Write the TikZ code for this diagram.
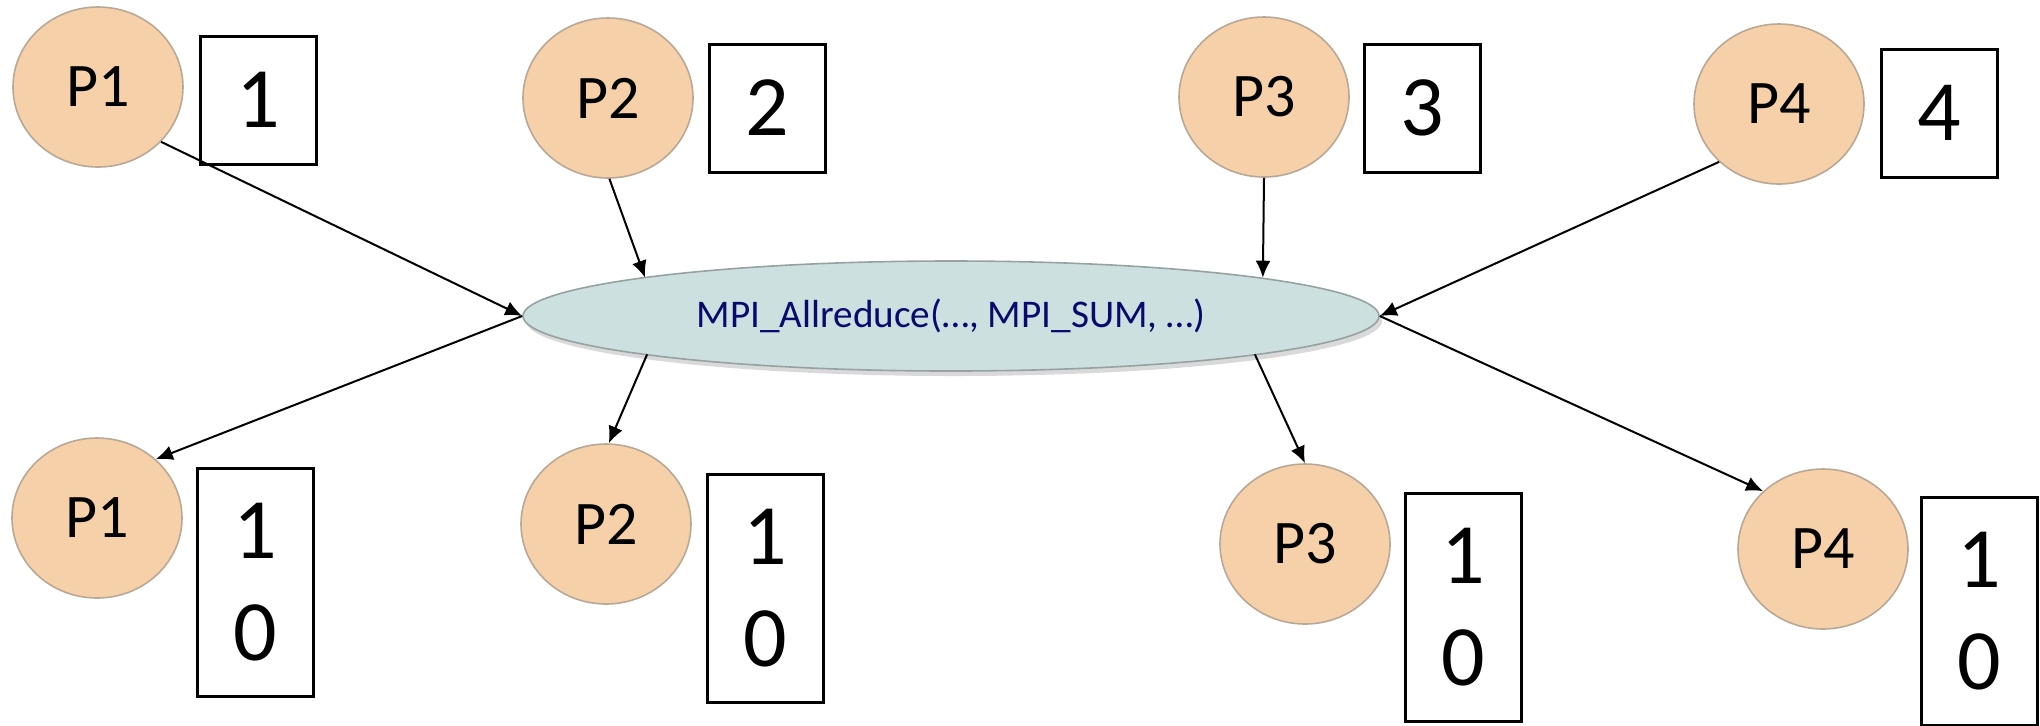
\documentclass[tikz,border=0pt]{standalone}
\usepackage{fontspec}
\setmainfont{Carlito}
\usetikzlibrary{shapes.geometric,arrows.meta,shadows}
\definecolor{procfill}{RGB}{245,208,169}
\definecolor{procline}{RGB}{185,168,150}
\definecolor{opfill}{RGB}{204,224,223}
\definecolor{opline}{RGB}{150,162,162}
\definecolor{optext}{RGB}{10,10,110}
\tikzset{
  proc/.style={ellipse, draw=procline, line width=0.8pt, fill=procfill, minimum width=85pt, minimum height=80pt, inner sep=0pt, font=\fontsize{31}{31}\selectfont},
  valbox/.style={draw, line width=1.5pt, minimum width=58pt, minimum height=64pt, inner sep=0pt, align=center, font=\fontsize{43}{51}\selectfont},
  colbox/.style={valbox, minimum height=114pt},
  link/.style={line width=1pt, -{Latex[length=8.5pt,width=7.5pt]}},
}
\begin{document}
\begin{tikzpicture}[x=0.5pt,y=-0.5pt]
  \useasboundingbox (0,0) rectangle (2040,725);
  % the collective call
  \node[ellipse, draw=opline, line width=0.8pt, fill=opfill, minimum width=428pt, minimum height=55pt, inner sep=0pt,
        drop shadow={shadow xshift=1.5pt, shadow yshift=-2.5pt, opacity=0.3},
        text=optext, font=\fontsize{19.6}{20}\selectfont] (allred) at (951,316) {MPI\_Allreduce(…, MPI\_SUM, …)};
  % before
  \node[proc] (p1t) at (98,87) {P1};
  \node[proc] (p2t) at (608,98) {P2};
  \node[proc] (p3t) at (1264,97) {P3};
  \node[proc] (p4t) at (1779,104) {P4};
  \node[valbox] (v1t) at (258,100) {1};
  \node[valbox] (v2t) at (767,108) {2};
  \node[valbox] (v3t) at (1422,108) {3};
  \node[valbox] (v4t) at (1939,113) {4};
  % after
  \node[proc] (p1b) at (97,518) {P1};
  \node[proc] (p2b) at (606,524) {P2};
  \node[proc] (p3b) at (1305,544) {P3};
  \node[proc] (p4b) at (1823,549) {P4};
  \node[colbox] (v1b) at (255,582) {1\\0};
  \node[colbox] (v2b) at (765,588) {1\\0};
  \node[colbox] (v3b) at (1463,607) {1\\0};
  \node[colbox] (v4b) at (1979,611) {1\\0};
  % arrows in and out
  \draw[link] (p1t.-41) -- (allred.west);
  \draw[link] (p2t.-89) -- ([xshift=3pt]allred.173.5);
  \draw[link] (p3t.-90) -- (allred.7);
  \draw[link] (p4t.-136) -- (allred.east);
  \draw[link] (allred.west) -- (p1b.45);
  \draw[link] ([xshift=4pt]allred.187) -- (p2b.88);
  \draw[link] ([xshift=-4pt]allred.-7) -- (p3b.90);
  \draw[link] (allred.east) -- (p4b.136);
\end{tikzpicture}
\end{document}
